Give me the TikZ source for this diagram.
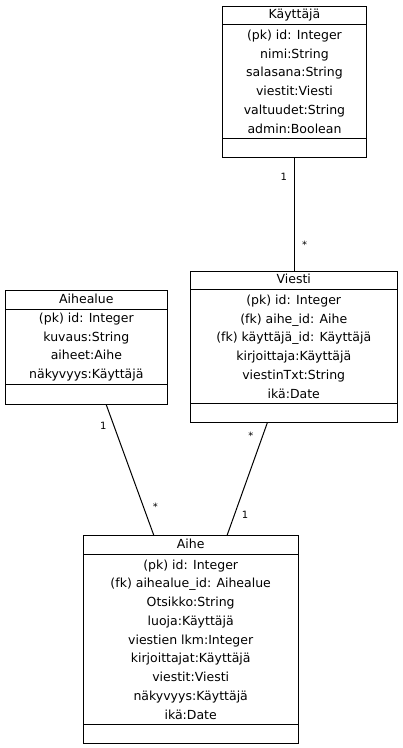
\documentclass[tikz,border=0pt]{standalone}
\usepackage{fontspec}
\setmainfont{DejaVu Sans}
\usetikzlibrary{positioning}

\tikzset{
  classtitle/.style={draw, line width=1pt, inner sep=0pt, minimum height=18pt,
    text height=9pt, text depth=2.5pt, font=\fontsize{12.5}{15}\selectfont},
  classattr/.style={draw, line width=1pt, inner sep=0pt, align=center,
    font=\fontsize{12.5}{18.75}\selectfont},
  classops/.style={draw, line width=1pt, inner sep=0pt, minimum height=19pt},
  assoc/.style={line width=1pt},
  mult/.style={font=\fontsize{10}{12}\selectfont, inner sep=1pt}
}

\begin{document}
\begin{tikzpicture}[x=1pt, y=1pt]
  \useasboundingbox (0,0) rectangle (403,-748);

  % Kayttaja
  \node[classtitle, minimum width=144pt, anchor=north west] (kayttajaTitle) at (222,-6) {Käyttäjä};
  \node[classattr, minimum width=144pt, minimum height=114pt, below=-1pt of kayttajaTitle] (kayttajaAttr)
    {(pk) id: Integer\\nimi:String\\salasana:String\\viestit:Viesti\\valtuudet:String\\admin:Boolean};
  \node[classops, minimum width=144pt, below=-1pt of kayttajaAttr] (kayttajaOps) {};

  % Viesti
  \node[classtitle, minimum width=207.5pt, anchor=north west] (viestiTitle) at (189.5,-271) {Viesti};
  \node[classattr, minimum width=207.5pt, minimum height=114pt, below=-1pt of viestiTitle] (viestiAttr)
    {(pk) id: Integer\\(fk) aihe\_id: Aihe\\(fk) käyttäjä\_id: Käyttäjä\\kirjoittaja:Käyttäjä\\viestinTxt:String\\ikä:Date};
  \node[classops, minimum width=207.5pt, below=-1pt of viestiAttr] (viestiOps) {};

  % Aihealue
  \node[classtitle, minimum width=162.3pt, minimum height=19pt, anchor=north west] (aihealueTitle) at (4.7,-290) {Aihealue};
  \node[classattr, minimum width=162.3pt, minimum height=75pt, below=-1pt of aihealueTitle] (aihealueAttr)
    {(pk) id: Integer\\kuvaus:String\\aiheet:Aihe\\näkyvyys:Käyttäjä};
  \node[classops, minimum width=162.3pt, minimum height=20pt, below=-1pt of aihealueAttr] (aihealueOps) {};

  % Aihe
  \node[classtitle, minimum width=215pt, minimum height=19pt, anchor=north west] (aiheTitle) at (82.7,-535) {Aihe};
  \node[classattr, minimum width=215pt, minimum height=170pt, below=-1pt of aiheTitle] (aiheAttr)
    {(pk) id: Integer\\(fk) aihealue\_id: Aihealue\\Otsikko:String\\luoja:Käyttäjä\\viestien lkm:Integer\\kirjoittajat:Käyttäjä\\viestit:Viesti\\näkyvyys:Käyttäjä\\ikä:Date};
  \node[classops, minimum width=215pt, below=-1pt of aiheAttr] (aiheOps) {};

  % associations
  \draw[assoc] (kayttajaOps.south) -- (kayttajaOps.south |- viestiTitle.north)
    node[mult, pos=0.17, left=6pt] {1}
    node[mult, pos=0.77, right=6pt] {*};
  \draw[assoc] ([xshift=20pt]aihealueOps.south) -- ([xshift=-37pt]aiheTitle.north)
    node[mult, pos=0.16, left=6pt] {1}
    node[mult, pos=0.78, right=8pt] {*};
  \draw[assoc] ([xshift=-26.5pt]viestiOps.south) -- ([xshift=36.5pt]aiheTitle.north)
    node[mult, pos=0.11, left=8pt] {*}
    node[mult, pos=0.82, right=6pt] {1};
\end{tikzpicture}
\end{document}
